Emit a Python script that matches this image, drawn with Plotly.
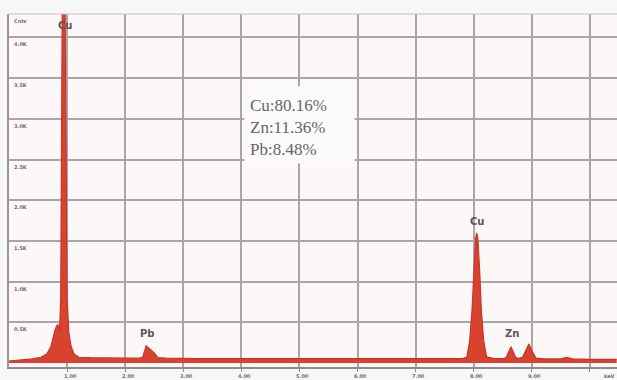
import plotly.graph_objects as go

# EDS spectrum (energy in keV, counts in units of 0.5 K)
energy = [0.00, 0.20, 0.40, 0.55, 0.65, 0.72, 0.76, 0.80, 0.84, 0.87, 0.89, 0.905, 0.92, 0.96, 0.985, 1.00,
          1.03, 1.07, 1.12, 1.20, 1.40, 1.70, 2.00, 2.25, 2.30, 2.36, 2.42, 2.50, 2.56, 2.70,
          3.20, 4.00, 5.00, 6.00, 6.80, 7.40, 7.80, 7.88, 7.93, 7.97, 8.00, 8.03, 8.05, 8.07,
          8.10, 8.13, 8.17, 8.22, 8.35, 8.52, 8.56, 8.64, 8.72, 8.76, 8.84, 8.90, 8.95, 9.00,
          9.07, 9.20, 9.50, 9.60, 9.70, 10.00, 10.46]
counts = [0.05, 0.07, 0.10, 0.14, 0.22, 0.40, 0.62, 0.85, 0.95, 0.80, 1.60, 6.00, 9.80, 9.80, 4.00, 1.60,
          0.75, 0.40, 0.22, 0.14, 0.13, 0.12, 0.12, 0.12, 0.14, 0.42, 0.34, 0.25, 0.13, 0.12,
          0.11, 0.11, 0.10, 0.10, 0.10, 0.10, 0.11, 0.14, 0.55, 1.30, 2.30, 3.05, 3.20, 3.05,
          2.30, 1.30, 0.55, 0.15, 0.11, 0.11, 0.14, 0.40, 0.14, 0.11, 0.14, 0.32, 0.47, 0.30,
          0.12, 0.10, 0.10, 0.14, 0.10, 0.09, 0.09]

x_ticks = [1, 2, 3, 4, 5, 6, 7, 8, 9]
x_tick_text = ["1.00", "2.00", "3.00", "4.00", "5.00", "6.00", "7.00", "8.00", "9.00"]
y_ticks = [1, 2, 3, 4, 5, 6, 7, 8]
y_tick_text = ["0.5K", "1.0K", "1.5K", "2.0K", "2.5K", "3.0K", "3.5K", "4.0K"]

peak_labels = ["Cu", "Pb", "Cu", "Zn"]
peak_x = [0.96, 2.38, 8.05, 8.65]
peak_y = [8.1, 0.55, 3.3, 0.55]

composition = ["Cu:80.16%", "Zn:11.36%", "Pb:8.48%"]

fig = go.Figure()
fig.add_trace(go.Scatter(
    x=energy, y=counts, mode="lines", fill="tozeroy",
    line=dict(color="#c9342a", width=1.2), fillcolor="#d8432f",
    hoverinfo="skip", showlegend=False))

grid = "#aba5a7"
fig.update_layout(
    width=617, height=380,
    margin=dict(l=9, r=0, t=14, b=13),
    paper_bgcolor="#f8f7f8", plot_bgcolor="#fcf8f8",
    xaxis=dict(range=[0, 10.465], tickvals=list(range(1, 11)), showticklabels=False,
               showgrid=True, gridcolor=grid, gridwidth=2, zeroline=False,
               showline=True, linecolor="#8c8a92", linewidth=2,
               ticks="outside", ticklen=3, tickcolor="#8c8a92"),
    yaxis=dict(range=[-0.098, 8.575], tickvals=y_ticks, showticklabels=False,
               showgrid=True, gridcolor=grid, gridwidth=2, zeroline=False,
               showline=True, linecolor="#9a969a", linewidth=2, mirror=False),
)

# top border of the frame
fig.add_shape(type="line", xref="paper", yref="paper", x0=0, x1=1, y0=1, y1=1,
              line=dict(color="#c4c0c2", width=1))

tick_font = dict(family="DejaVu Sans", size=5, color="#6e6a70")

# x tick labels under the axis
for v, t in zip(x_ticks, x_tick_text):
    fig.add_annotation(x=v + 0.05, y=0, yref="paper", yanchor="top", yshift=-4,
                       text="<b>%s</b>" % t, showarrow=False, font=tick_font)
fig.add_annotation(x=10.33, y=0, yref="paper", yanchor="top", yshift=-4,
                   text="<b>keV</b>", showarrow=False, font=tick_font)

# y tick labels just under each gridline, inside the frame
for v, t in zip(y_ticks, y_tick_text):
    fig.add_annotation(x=0.05, y=v, xanchor="left", yanchor="top", yshift=-2,
                       text="<b>%s</b>" % t, showarrow=False, font=tick_font)
fig.add_annotation(x=0.05, y=1, yref="paper", xanchor="left", yanchor="top", yshift=-2,
                   text="<b>Cnts</b>", showarrow=False, font=tick_font)

# element labels over the peaks
for t, px, py in zip(peak_labels, peak_x, peak_y):
    fig.add_annotation(x=px, y=py, yanchor="bottom", text="<b>%s</b>" % t, showarrow=False,
                       font=dict(family="DejaVu Sans", size=10, color="#5a5658"))

# composition box
fig.add_shape(type="rect", x0=4.05, x1=5.95, y0=4.9, y1=6.8, layer="above",
              fillcolor="#fcfbfb", line=dict(width=0))
fig.add_annotation(x=4.12, y=6.6, xanchor="left", yanchor="top", align="left",
                   text="<br>".join(composition), showarrow=False,
                   font=dict(family="Liberation Serif", size=17, color="#6a6466"))

fig.write_html("out.html")
